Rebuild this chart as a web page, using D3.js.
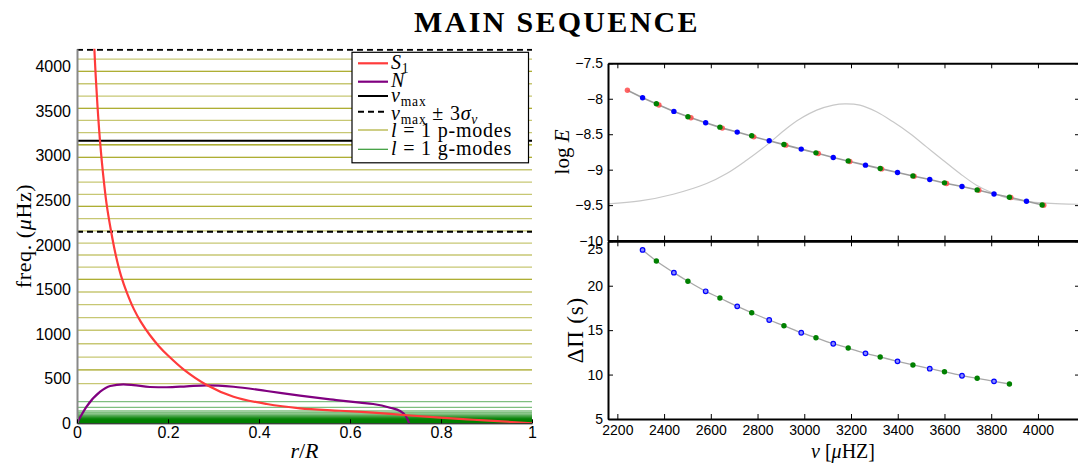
<!DOCTYPE html>
<html>
<head>
<meta charset="utf-8">
<script src="https://cdn.jsdelivr.net/npm/d3@7"></script>
<style>
  body { margin: 0; background: #fff; }
  svg { display: block; background: #fff; }
  text { font-family: "Liberation Sans", Arial, sans-serif; fill: #000; }
  .serif { font-family: "Liberation Serif", "Times New Roman", serif; }
</style>
</head>
<body>
<svg id="chart" width="1078" height="465"></svg>
<script>
// --- propagation diagram (left) ---
const s1Radius = [0.036, 0.040, 0.045, 0.0505, 0.057, 0.065, 0.075, 0.085, 0.097, 0.11, 0.125, 0.14, 0.16, 0.18, 0.2, 0.234, 0.285, 0.344, 0.417, 0.49, 0.578, 0.651, 0.725, 0.798, 0.871, 0.944, 1.0];
const s1Freq = [4450, 4000, 3560, 3170, 2810, 2460, 2150, 1890, 1650, 1460, 1280, 1140, 990, 865, 760, 605, 430, 298, 216, 168, 141, 119, 90, 63, 40, 18, 0];

const nRadius = [0, 0.021, 0.051, 0.073, 0.102, 0.124, 0.16, 0.197, 0.241, 0.285, 0.344, 0.417, 0.49, 0.563, 0.622, 0.651, 0.688, 0.71, 0.721, 0.727, 0.730];
const nFreq = [0, 186, 354, 418, 437, 429, 407, 404, 415, 426, 410, 362, 310, 265, 231, 216, 175, 138, 93, 37, 0];

const numax = 3168;
const numaxBand = [2149, 4187];

// l=1 mode frequencies (muHz); near-degenerate pairs listed twice
const pModes = [4084, 3946, 3946, 3807, 3669, 3531, 3531, 3397, 3258, 3123, 3123, 2982, 2982, 2843, 2705, 2567, 2433, 2433, 2294, 2157, 2021, 1887, 1752, 1614, 1614, 1472, 1330, 1184, 1043, 892, 743, 598, 598, 444];
const gModes = [242, 179, 138, 119, 104, 92, 83, 76, 70, 65, 60, 56, 52.5, 49, 46, 43.5, 41, 39, 37, 35, 33.5, 32, 30.5, 29, 27.5, 26, 24.5, 23, 21.5, 20, 18.5, 17, 15.5, 14, 12.5, 11, 9.5, 8, 6.5, 5, 3.5, 2];

const radiusTicks = [0, 0.2, 0.4, 0.6, 0.8, 1];
const freqTicks = [0, 500, 1000, 1500, 2000, 2500, 3000, 3500, 4000];

// --- mode energies (top right) ---
const redNu = [2243, 2378, 2515, 2649, 2784, 2921, 3060, 3195, 3331, 3470, 3609, 3747, 3884, 4025];
const redLogE = [-7.881, -8.089, -8.268, -8.414, -8.537, -8.654, -8.771, -8.884, -8.989, -9.092, -9.195, -9.290, -9.393, -9.501];
const blueNu = [2308, 2442, 2578, 2713, 2850, 2987, 3124, 3262, 3399, 3537, 3675, 3812, 3951];
const blueLogE = [-7.986, -8.178, -8.339, -8.470, -8.593, -8.710, -8.828, -8.936, -9.040, -9.138, -9.237, -9.342, -9.445];
const greenNu = [2367, 2502, 2639, 2775, 2913, 3050, 3188, 3325, 3465, 3600, 3740, 3878, 4018];
const greenLogE = [-8.071, -8.254, -8.400, -8.522, -8.644, -8.763, -8.876, -8.983, -9.088, -9.186, -9.285, -9.388, -9.497];

// oscillation envelope
const envNu = [2160, 2297, 2439, 2582, 2668, 2753, 2839, 2924, 2981, 3053, 3124, 3174, 3238, 3309, 3380, 3452, 3523, 3594, 3666, 3737, 3808, 3879, 3951, 4022, 4100, 4180];
const envLogE = [-9.483, -9.441, -9.346, -9.195, -9.054, -8.866, -8.654, -8.418, -8.285, -8.160, -8.089, -8.071, -8.089, -8.183, -8.325, -8.489, -8.678, -8.866, -9.054, -9.219, -9.328, -9.407, -9.445, -9.469, -9.482, -9.488];

// --- period spacings (bottom right) ---
const dpBlueNu = [2308, 2442, 2578, 2713, 2850, 2987, 3124, 3262, 3399, 3537, 3675, 3812];
const dpBlue = [24.03, 21.47, 19.37, 17.68, 16.14, 14.71, 13.47, 12.39, 11.49, 10.66, 9.87, 9.24];
const dpGreenNu = [2367, 2502, 2639, 2775, 2913, 3050, 3188, 3325, 3465, 3600, 3740, 3878];
const dpGreen = [22.78, 20.50, 18.62, 16.96, 15.50, 14.15, 12.99, 11.98, 11.08, 10.32, 9.58, 8.94];

const nuTicks = [2200, 2400, 2600, 2800, 3000, 3200, 3400, 3600, 3800, 4000];
const logETicks = [-10, -9.5, -9, -8.5, -8, -7.5];
const dpTicks = [5, 10, 15, 20, 25];

const svg = d3.select("#chart");
const zip = (xs, ys) => xs.map((x, i) => [x, ys[i]]);

// writes mixed roman / italic / subscript text into a <text>
function rich(textSel, parts, size) {
  let shift = 0;
  parts.forEach(([str, kind]) => {
    const sub = kind === "sub" || kind === "subi";
    const target = sub ? size * 0.22 : 0;
    textSel.append("tspan")
      .attr("dy", target - shift)
      .attr("font-size", sub ? size * 0.68 : size)
      .attr("font-style", kind === "i" || kind === "subi" ? "italic" : "normal")
      .text(str);
    shift = target;
  });
  return textSel;
}

// title
svg.append("text")
  .attr("class", "serif")
  .attr("x", 557).attr("y", 32)
  .attr("text-anchor", "middle")
  .attr("font-size", 30).attr("font-weight", "bold")
  .attr("letter-spacing", 2.3)
  .text("MAIN SEQUENCE");

// ================= left panel =================
const xR = d3.scaleLinear().domain([0, 1]).range([77, 532]);
const yF = d3.scaleLinear().domain([0, 4200]).range([423.3, 48.7]);

svg.append("clipPath").attr("id", "clipL")
  .append("rect")
  .attr("x", xR(0)).attr("y", yF(4200))
  .attr("width", xR(1) - xR(0)).attr("height", yF(0) - yF(4200));

const left = svg.append("g").attr("clip-path", "url(#clipL)");

left.append("g").selectAll("line").data(pModes).join("line")
  .attr("x1", xR(0)).attr("x2", xR(1))
  .attr("y1", d => yF(d)).attr("y2", d => yF(d))
  .attr("stroke", "#999900").attr("stroke-opacity", 0.55).attr("stroke-width", 1.3);

left.append("g").selectAll("line").data(gModes).join("line")
  .attr("x1", xR(0)).attr("x2", xR(1))
  .attr("y1", d => yF(d)).attr("y2", d => yF(d))
  .attr("stroke", "#008000").attr("stroke-opacity", 0.5).attr("stroke-width", 1.3);

left.append("line")
  .attr("x1", xR(0)).attr("x2", xR(1))
  .attr("y1", yF(numax)).attr("y2", yF(numax))
  .attr("stroke", "#000").attr("stroke-width", 2);

left.append("g").selectAll("line").data(numaxBand).join("line")
  .attr("x1", xR(0)).attr("x2", xR(1))
  .attr("y1", d => yF(d)).attr("y2", d => yF(d))
  .attr("stroke", "#000").attr("stroke-width", 2).attr("stroke-dasharray", "6,4");

const lineL = d3.line().x(d => xR(d[0])).y(d => yF(d[1])).curve(d3.curveMonotoneX);

left.append("path").datum(zip(nRadius, nFreq))
  .attr("d", lineL).attr("fill", "none")
  .attr("stroke", "#800080").attr("stroke-width", 2.2);

left.append("path").datum(zip(s1Radius, s1Freq))
  .attr("d", d3.line().x(d => xR(d[0])).y(d => yF(d[1])).curve(d3.curveCatmullRom))
  .attr("fill", "none")
  .attr("stroke", "#ff3b3b").attr("stroke-width", 2.2);

// axes
const yAxisL = svg.append("g")
  .attr("transform", `translate(${xR(0)},0)`)
  .call(d3.axisLeft(yF).tickValues(freqTicks).tickSize(0).tickPadding(6).tickFormat(d3.format("d")));
yAxisL.select(".domain").attr("stroke", "#888").attr("stroke-width", 2);
yAxisL.selectAll("text").attr("font-size", 16).attr("font-family", "Liberation Sans, Arial, sans-serif");

const xAxisL = svg.append("g")
  .attr("transform", `translate(0,${yF(0)})`)
  .call(d3.axisBottom(xR).tickValues(radiusTicks).tickSizeInner(-4).tickSizeOuter(0).tickPadding(3).tickFormat(d => d));
xAxisL.select(".domain").attr("stroke", "#000").attr("stroke-width", 1);
xAxisL.selectAll(".tick line").attr("stroke", "#000");
xAxisL.selectAll("text").attr("font-size", 16).attr("font-family", "Liberation Sans, Arial, sans-serif");

rich(svg.append("text").attr("class", "serif")
  .attr("transform", `translate(31,${(yF(0) + yF(4200)) / 2}) rotate(-90)`)
  .attr("text-anchor", "middle").attr("letter-spacing", 0.6),
  [["freq. (", ""], ["μ", "i"], ["Hz)", ""]], 22);

rich(svg.append("text").attr("class", "serif")
  .attr("x", (xR(0) + xR(1)) / 2).attr("y", 458)
  .attr("text-anchor", "middle"),
  [["r", "i"], ["/", ""], ["R", "i"]], 22);

// legend
const legendItems = [
  { parts: [["S", "i"], ["1", "sub"]], stroke: "#ff3b3b", width: 2.2 },
  { parts: [["N", "i"]], stroke: "#800080", width: 2.2 },
  { parts: [["ν", "i"], ["max", "sub"]], stroke: "#000", width: 2 },
  { parts: [["ν", "i"], ["max", "sub"], [" ± 3", ""], ["σ", "i"], ["ν", "subi"]], stroke: "#000", width: 2, dash: "6,4" },
  { parts: [["l", "i"], [" = 1 p-modes", ""]], stroke: "#999900", width: 1.2, opacity: 0.8 },
  { parts: [["l", "i"], [" = 1 g-modes", ""]], stroke: "#008000", width: 1.2, opacity: 0.8 }
];
const legendRowY = [63.3, 81.7, 96, 111.7, 130, 149.3];
const legendBaseY = [68.5, 86.5, 101.5, 119.5, 136.5, 155];

const legend = svg.append("g");
legend.append("rect")
  .attr("x", 352).attr("y", 52.3).attr("width", 176.5).attr("height", 110.5)
  .attr("fill", "#fff").attr("stroke", "#000").attr("stroke-width", 1.2);

legendItems.forEach((it, i) => {
  legend.append("line")
    .attr("x1", 358).attr("x2", 388)
    .attr("y1", legendRowY[i]).attr("y2", legendRowY[i])
    .attr("stroke", it.stroke).attr("stroke-width", it.width)
    .attr("stroke-opacity", it.opacity || 1)
    .attr("stroke-dasharray", it.dash || null);
  rich(legend.append("text").attr("class", "serif")
    .attr("x", 391).attr("y", legendBaseY[i]).attr("letter-spacing", 0.8), it.parts, 20);
});

// ================= right panels =================
const xNu = d3.scaleLinear().domain([2160, 4180]).range([608, 1080]);
const yE = d3.scaleLinear().domain([-10, -7.5]).range([240.6, 63.3]);
const yP = d3.scaleLinear().domain([5, 25]).range([419, 241.3]);

function frame(yScale, ticks, fmt, withXLabels) {
  const [y0, y1] = yScale.range();
  const g = svg.append("g");
  g.append("g").attr("transform", `translate(0,${y1})`)
    .call(d3.axisTop(xNu).tickValues(nuTicks).tickSizeInner(-5).tickSizeOuter(0).tickFormat(""));
  g.append("g").attr("transform", `translate(0,${y0})`)
    .call(d3.axisBottom(xNu).tickValues(nuTicks).tickSizeInner(-5).tickSizeOuter(0).tickPadding(6)
      .tickFormat(withXLabels ? d3.format("d") : ""));
  g.append("g").attr("transform", `translate(${xNu.range()[0]},0)`)
    .call(d3.axisLeft(yScale).tickValues(ticks).tickSizeInner(-5).tickSizeOuter(0).tickPadding(5).tickFormat(fmt));
  g.append("g").attr("transform", `translate(${xNu.range()[1]},0)`)
    .call(d3.axisRight(yScale).tickValues(ticks).tickSizeInner(-5).tickSizeOuter(0).tickFormat(""));
  g.selectAll(".domain").attr("stroke", "#000").attr("stroke-width", 2);
  g.selectAll(".tick line").attr("stroke", "#000");
  g.selectAll("text").attr("font-size", 14).attr("font-family", "Liberation Sans, Arial, sans-serif");
  return g;
}

// top: log E
svg.append("path").datum(zip(envNu, envLogE))
  .attr("d", d3.line().x(d => xNu(d[0])).y(d => yE(d[1])).curve(d3.curveCatmullRom))
  .attr("fill", "none").attr("stroke", "#c8c8c8").attr("stroke-width", 1.2);

const energyPts = zip(redNu, redLogE).concat(zip(blueNu, blueLogE)).sort((a, b) => a[0] - b[0]);
svg.append("path").datum(energyPts)
  .attr("d", d3.line().x(d => xNu(d[0])).y(d => yE(d[1])))
  .attr("fill", "none").attr("stroke", "#9c9c9c").attr("stroke-width", 1.6);

svg.append("g").selectAll("circle").data(zip(redNu, redLogE)).join("circle")
  .attr("cx", d => xNu(d[0])).attr("cy", d => yE(d[1])).attr("r", 2.7)
  .attr("fill", "#ff4a4a").attr("fill-opacity", 0.85);
svg.append("g").selectAll("circle").data(zip(greenNu, greenLogE)).join("circle")
  .attr("cx", d => xNu(d[0])).attr("cy", d => yE(d[1])).attr("r", 2.7)
  .attr("fill", "#008000");
svg.append("g").selectAll("circle").data(zip(blueNu, blueLogE)).join("circle")
  .attr("cx", d => xNu(d[0])).attr("cy", d => yE(d[1])).attr("r", 2.7)
  .attr("fill", "#0000ff");

frame(yE, logETicks, d3.format("~g"), false);

// bottom: period spacing
const dpPts = zip(dpBlueNu, dpBlue).concat(zip(dpGreenNu, dpGreen)).sort((a, b) => a[0] - b[0]);
svg.append("path").datum(dpPts)
  .attr("d", d3.line().x(d => xNu(d[0])).y(d => yP(d[1])).curve(d3.curveMonotoneX))
  .attr("fill", "none").attr("stroke", "#a8a8a8").attr("stroke-width", 1.3);

svg.append("g").selectAll("circle").data(zip(dpGreenNu, dpGreen)).join("circle")
  .attr("cx", d => xNu(d[0])).attr("cy", d => yP(d[1])).attr("r", 2.7)
  .attr("fill", "#008000");
svg.append("g").selectAll("circle").data(zip(dpBlueNu, dpBlue)).join("circle")
  .attr("cx", d => xNu(d[0])).attr("cy", d => yP(d[1])).attr("r", 2.3)
  .attr("fill", "#8c8cff").attr("stroke", "#0000ff").attr("stroke-width", 1.2);

const bottom = frame(yP, dpTicks, d3.format("d"), true);
// top tick label of the lower panel sits a little lower than the panel edge
bottom.selectAll(".tick text").filter(d => d === 25).attr("dy", "0.9em");

// axis titles
rich(svg.append("text").attr("class", "serif")
  .attr("transform", `translate(569,${(yE(-10) + yE(-7.5)) / 2}) rotate(-90)`)
  .attr("text-anchor", "middle"),
  [["log ", ""], ["E", "i"]], 21);

rich(svg.append("text").attr("class", "serif")
  .attr("transform", `translate(583,${(yP(5) + yP(25)) / 2}) rotate(-90)`)
  .attr("text-anchor", "middle").attr("letter-spacing", 0.8),
  [["ΔΠ (s)", ""]], 23);

rich(svg.append("text").attr("class", "serif")
  .attr("x", (xNu(2160) + 1078) / 2).attr("y", 458)
  .attr("text-anchor", "middle"),
  [["ν", "i"], [" [", ""], ["μ", "i"], ["HZ]", ""]], 20);
</script>
</body>
</html>
